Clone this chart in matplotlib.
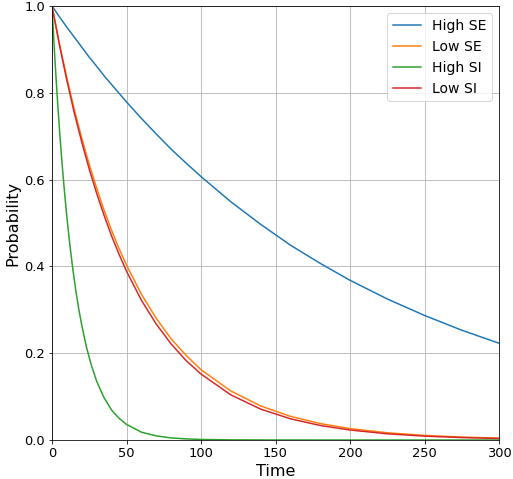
import matplotlib
matplotlib.use("Agg")
import matplotlib.pyplot as plt

time = [0, 5, 10, 15, 20, 25, 30, 35, 40, 45, 50, 60, 70, 80, 90, 100,
        120, 140, 160, 180, 200, 225, 250, 275, 300]
high_se = [1.0, 0.975, 0.951, 0.928, 0.905, 0.882, 0.861, 0.839, 0.819, 0.799,
           0.779, 0.741, 0.705, 0.670, 0.638, 0.607, 0.549, 0.497, 0.449, 0.407,
           0.368, 0.325, 0.287, 0.253, 0.223]
low_se = [1.0, 0.913, 0.834, 0.761, 0.695, 0.635, 0.580, 0.529, 0.483, 0.441,
          0.403, 0.336, 0.280, 0.233, 0.195, 0.162, 0.113, 0.0785, 0.0545, 0.0379,
          0.0263, 0.0167, 0.0106, 0.0067, 0.0043]
low_si = [1.0, 0.910, 0.828, 0.753, 0.686, 0.624, 0.568, 0.517, 0.470, 0.428,
          0.389, 0.322, 0.267, 0.221, 0.183, 0.152, 0.104, 0.0712, 0.0489, 0.0335,
          0.0230, 0.0143, 0.0089, 0.0056, 0.0035]

time_hsi = [0, 1, 2, 3, 4, 5, 6, 7, 8, 9, 10, 12, 14, 16, 18, 20, 23, 26, 30,
            35, 40, 45, 50, 60, 70, 80, 90, 100, 120, 150, 200, 300]
high_si = [1.0, 0.936, 0.875, 0.819, 0.766, 0.717, 0.670, 0.627, 0.587, 0.549,
           0.513, 0.449, 0.393, 0.344, 0.301, 0.264, 0.216, 0.177, 0.135,
           0.097, 0.069, 0.050, 0.036, 0.018, 0.0094, 0.0048, 0.0025,
           0.0013, 0.0003, 0.00005, 0.0, 0.0]

DPI = 72
fig = plt.figure(figsize=(513 / DPI, 479 / DPI), dpi=DPI)
ax = fig.add_axes([52/513, 39/479, 447/513, 434/479])
ax.plot(time, high_se, color="#1f77b4", label="High SE")
ax.plot(time, low_se, color="#ff7f0e", label="Low SE")
ax.plot(time_hsi, high_si, color="#2ca02c", label="High SI")
ax.plot(time, low_si, color="#d62728", label="Low SI")
ax.set_xlim(0, 300)
ax.set_ylim(0, 1)
ax.grid(True)
ax.set_xlabel("Time", fontsize=16)
ax.set_ylabel("Probability", fontsize=16)
ax.tick_params(labelsize=13)
ax.legend(loc="upper right", fontsize=14)
fig.savefig("out.png", dpi=DPI)
